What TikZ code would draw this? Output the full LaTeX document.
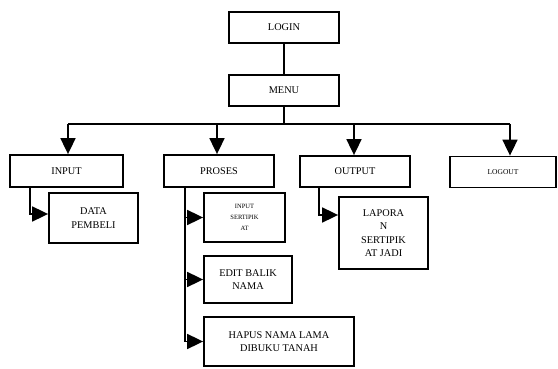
\documentclass[tikz,border=0pt]{standalone}
\usepackage{fontspec}
\setmainfont{Liberation Serif}
\usetikzlibrary{arrows.meta}
\begin{document}
\begin{tikzpicture}[x=1pt,y=-1pt,
  box/.style={draw,line width=1.8pt,rectangle,inner sep=0pt,align=center,
    font=\fontsize{10.3}{13.5}\selectfont},
  arr/.style={line width=1.8pt,-{Triangle[length=16pt,width=15pt]}},
  ln/.style={line width=1.8pt}]
\useasboundingbox (0,0) rectangle (558,369);
\node[box,minimum width=110pt,minimum height=31pt] (login) at (284,27.5) {LOGIN};
\node[box,minimum width=110pt,minimum height=31pt] (menu) at (284,90.5) {MENU};
\node[box,minimum width=113pt,minimum height=32pt] (inp) at (66.5,171) {INPUT};
\node[box,minimum width=110pt,minimum height=32pt] (pro) at (219,171) {PROSES};
\node[box,minimum width=110pt,minimum height=31pt] (out) at (355,171.5) {OUTPUT};
\node[box,minimum width=106pt,minimum height=31pt,font=\fontsize{7.5}{9}\selectfont] (logout) at (503,172) {LOGOUT};
\node[box,minimum width=89pt,minimum height=50pt] (data) at (93.5,218) {DATA\\PEMBELI};
\node[box,minimum width=81pt,minimum height=49pt,font=\fontsize{6.5}{11}\selectfont] (ins) at (244.5,217.5) {INPUT\\SERTIPIK\\AT};
\node[box,minimum width=88pt,minimum height=47pt] (edit) at (248,279.5) {EDIT BALIK\\NAMA};
\node[box,minimum width=150pt,minimum height=49pt] (hapus) at (279,341.5) {HAPUS NAMA LAMA\\DIBUKU TANAH};
\node[box,minimum width=89pt,minimum height=72pt] (lap) at (383.5,233) {LAPORA\\N\\SERTIPIK\\AT JADI};
% main bus
\coordinate (bm) at (284,124);
\coordinate (b1) at (68,124);
\coordinate (b2) at (217,124);
\coordinate (b3) at (354,124);
\coordinate (b4) at (510,124);
\draw[ln] (login) -- (menu);
\draw[ln] (menu) -- (bm);
\draw[ln] (b1) -- (b4);
\draw[arr] (b1) -- (b1 |- inp.north);
\draw[arr] (b2) -- (b2 |- pro.north);
\draw[arr] (b3) -- (b3 |- out.north);
\draw[arr] (b4) -- (b4 |- logout.north);
% side connectors
\coordinate (s1) at (30,0);
\coordinate (s2) at (185,0);
\coordinate (s3) at (319,0);
\draw[arr] (s1 |- inp.south) |- ([yshift=4pt]data.west);
\draw[ln] (s2 |- pro.south) -- (s2 |- hapus.west);
\draw[arr] (s2 |- ins.west) -- (ins.west);
\draw[arr] (s2 |- edit.west) -- (edit.west);
\draw[arr] (s2 |- hapus.west) -- (hapus.west);
\draw[arr] (s3 |- out.south) |- ([yshift=18pt]lap.west);
\end{tikzpicture}
\end{document}
